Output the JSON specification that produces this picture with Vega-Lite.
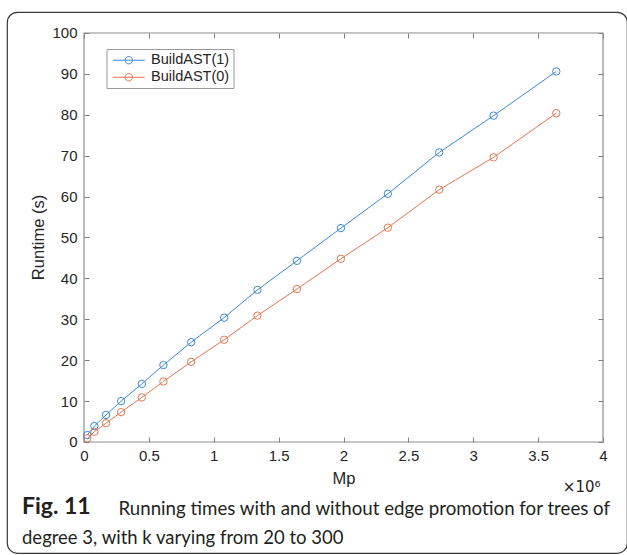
{
  "$schema": "https://vega.github.io/schema/vega-lite/v6.json",
  "width": 620,
  "height": 541,
  "autosize": {"type": "none"},
  "padding": {"left": 7, "top": 12, "right": 0, "bottom": 2},
  "background": "white",
  "config": {
    "view": {"stroke": "#3a3a3a", "strokeWidth": 1.2, "cornerRadius": 10, "fill": "white"}
  },
  "title": {
    "text": "Fig. 11",
    "subtitle": "degree 3, with k varying from 20 to 300",
    "orient": "bottom",
    "anchor": "start",
    "frame": "group",
    "dx": 15,
    "offset": -39,
    "baseline": "alphabetic",
    "font": "Lato",
    "fontSize": 23,
    "fontWeight": "bold",
    "color": "#231f20",
    "subtitleFont": "Lato",
    "subtitleFontSize": 18.5,
    "subtitleColor": "#231f20",
    "subtitlePadding": 7
  },
  "resolve": {"axis": {"x": "independent", "y": "independent"}},
  "layer": [
    {
      "data": {"values": [{"box": 1}]},
      "mark": {"type": "rect", "fill": "transparent", "stroke": "#8c8c8c", "strokeWidth": 1.2},
      "encoding": {
        "x": {
          "datum": 0, "type": "quantitative",
          "scale": {"domain": [-593449, 4184971], "nice": false, "zero": false},
          "axis": {
            "orient": "bottom", "offset": -111,
            "values": [0, 500000, 1000000, 1500000, 2000000, 2500000, 3000000, 3500000, 4000000],
            "labelExpr": "'' + datum.value/1000000",
            "domain": false, "grid": false, "tickSize": -5, "tickColor": "#808080",
            "labelPadding": 11, "labelFont": "Liberation Sans", "labelFontSize": 15,
            "labelColor": "#262626", "labelFlush": false, "labelOverlap": false,
            "title": "Mp", "titleX": 336.5, "titleY": 41, "titleAlign": "center",
            "titleBaseline": "alphabetic", "titleFont": "Liberation Sans",
            "titleFontSize": 16.5, "titleFontWeight": "normal", "titleColor": "#262626"
          }
        },
        "x2": {"datum": 4000000},
        "y": {
          "datum": 0, "type": "quantitative",
          "scale": {"domain": [-27.14, 105.134], "nice": false, "zero": false},
          "axis": {
            "orient": "left", "offset": -77,
            "values": [0, 10, 20, 30, 40, 50, 60, 70, 80, 90, 100],
            "domain": false, "grid": false, "tickSize": -5, "tickColor": "#808080",
            "labelPadding": 12, "labelFont": "Liberation Sans", "labelFontSize": 15,
            "labelColor": "#262626", "labelFlush": false, "labelOverlap": false,
            "title": "Runtime (s)", "titleX": -46, "titleY": 225, "titleAngle": -90,
            "titleAlign": "center", "titleBaseline": "middle", "titleFont": "Liberation Sans",
            "titleFontSize": 16.5, "titleFontWeight": "normal", "titleColor": "#262626"
          }
        },
        "y2": {"datum": 100}
      }
    },
    {
      "data": {
        "values": [
          {"Mp": 26000, "runtime": 1.7, "series": "BuildAST(1)"},
          {"Mp": 80000, "runtime": 3.9, "series": "BuildAST(1)"},
          {"Mp": 170000, "runtime": 6.6, "series": "BuildAST(1)"},
          {"Mp": 286000, "runtime": 10.0, "series": "BuildAST(1)"},
          {"Mp": 446000, "runtime": 14.2, "series": "BuildAST(1)"},
          {"Mp": 612000, "runtime": 18.8, "series": "BuildAST(1)"},
          {"Mp": 826000, "runtime": 24.4, "series": "BuildAST(1)"},
          {"Mp": 1080000, "runtime": 30.4, "series": "BuildAST(1)"},
          {"Mp": 1337000, "runtime": 37.2, "series": "BuildAST(1)"},
          {"Mp": 1641000, "runtime": 44.3, "series": "BuildAST(1)"},
          {"Mp": 1980000, "runtime": 52.3, "series": "BuildAST(1)"},
          {"Mp": 2342000, "runtime": 60.7, "series": "BuildAST(1)"},
          {"Mp": 2738000, "runtime": 70.8, "series": "BuildAST(1)"},
          {"Mp": 3157000, "runtime": 79.8, "series": "BuildAST(1)"},
          {"Mp": 3640000, "runtime": 90.6, "series": "BuildAST(1)"},
          {"Mp": 26000, "runtime": 0.9, "series": "BuildAST(0)"},
          {"Mp": 80000, "runtime": 2.5, "series": "BuildAST(0)"},
          {"Mp": 170000, "runtime": 4.6, "series": "BuildAST(0)"},
          {"Mp": 286000, "runtime": 7.3, "series": "BuildAST(0)"},
          {"Mp": 446000, "runtime": 10.9, "series": "BuildAST(0)"},
          {"Mp": 612000, "runtime": 14.8, "series": "BuildAST(0)"},
          {"Mp": 826000, "runtime": 19.6, "series": "BuildAST(0)"},
          {"Mp": 1080000, "runtime": 25.0, "series": "BuildAST(0)"},
          {"Mp": 1337000, "runtime": 30.9, "series": "BuildAST(0)"},
          {"Mp": 1641000, "runtime": 37.4, "series": "BuildAST(0)"},
          {"Mp": 1980000, "runtime": 44.8, "series": "BuildAST(0)"},
          {"Mp": 2342000, "runtime": 52.4, "series": "BuildAST(0)"},
          {"Mp": 2738000, "runtime": 61.7, "series": "BuildAST(0)"},
          {"Mp": 3157000, "runtime": 69.6, "series": "BuildAST(0)"},
          {"Mp": 3640000, "runtime": 80.4, "series": "BuildAST(0)"}
        ]
      },
      "mark": {"type": "line", "strokeWidth": 1, "point": {"filled": false, "size": 55, "strokeWidth": 1}},
      "encoding": {
        "x": {
          "field": "Mp", "type": "quantitative",
          "scale": {"domain": [-593449, 4184971], "nice": false, "zero": false},
          "axis": {
            "orient": "top", "offset": -21,
            "values": [0, 500000, 1000000, 1500000, 2000000, 2500000, 3000000, 3500000, 4000000],
            "labels": false, "domain": false, "grid": false, "tickSize": -5, "tickColor": "#808080",
            "title": "Running times with and without edge promotion for trees of",
            "titleX": 111, "titleY": 481, "titleAlign": "left", "titleBaseline": "alphabetic",
            "titleFont": "Lato", "titleFontSize": 18.7, "titleFontWeight": "normal",
            "titleColor": "#231f20", "titleLimit": 2000
          }
        },
        "y": {
          "field": "runtime", "type": "quantitative",
          "scale": {"domain": [-27.14, 105.134], "nice": false, "zero": false},
          "axis": {
            "orient": "right", "offset": -24,
            "values": [0, 10, 20, 30, 40, 50, 60, 70, 80, 90, 100],
            "labels": false, "domain": false, "grid": false, "tickSize": -5, "tickColor": "#808080",
            "title": "×10⁶", "titleAngle": 0, "titleX": -3, "titleY": 479,
            "titleAlign": "right", "titleBaseline": "alphabetic", "titleFont": "DejaVu Sans",
            "titleFontSize": 15, "titleFontWeight": "normal", "titleColor": "#262626"
          }
        },
        "color": {
          "field": "series", "type": "nominal",
          "scale": {"domain": ["BuildAST(1)", "BuildAST(0)"], "range": ["#3b8bd6", "#e57650"]},
          "legend": {
            "orient": "none", "legendX": 99.5, "legendY": 37, "title": null,
            "symbolType": "M-1,0H5.4M2.94,0A0.74,0.74,0,1,1,1.46,0A0.74,0.74,0,1,1,2.94,0",
            "symbolSize": 100, "symbolStrokeWidth": 1, "symbolFillColor": "transparent",
            "labelFont": "Liberation Sans", "labelFontSize": 14.5, "labelColor": "#262626",
            "labelOffset": 26, "strokeColor": "#999999", "fillColor": "white",
            "padding": 4, "rowPadding": 2
          }
        }
      }
    }
  ]
}
